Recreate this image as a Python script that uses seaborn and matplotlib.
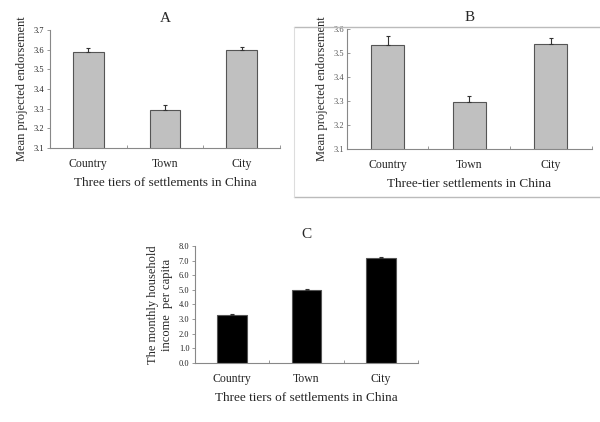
import matplotlib
matplotlib.use("Agg")
import matplotlib.pyplot as plt
import seaborn as sns
import pandas as pd
from matplotlib.lines import Line2D

sns.set_theme(style="white")
plt.rcParams['font.family'] = ['Liberation Serif', 'DejaVu Serif']

categories = ["Country", "Town", "City"]
a_values = [3.59, 3.295, 3.597]
a_errors = [0.017, 0.022, 0.017]
b_values = [3.532, 3.298, 3.537]
b_errors = [0.04, 0.025, 0.027]
c_values = [3.3, 4.98, 7.2]
c_errors = [0.06, 0.1, 0.07]

a_ticks = [3.1, 3.2, 3.3, 3.4, 3.5, 3.6, 3.7]
b_ticks = [3.1, 3.2, 3.3, 3.4, 3.5, 3.6]
c_ticks = [0, 1, 2, 3, 4, 5, 6, 7, 8]

fig = plt.figure(figsize=(6, 4.22), dpi=100)

# Box around panel B
fig.add_artist(Line2D([294/600, 1.0], [1-27/422, 1-27/422], color="#bbbbbb", lw=1.0))
fig.add_artist(Line2D([294/600, 1.0], [1-197/422, 1-197/422], color="#bbbbbb", lw=1.0))
fig.add_artist(Line2D([294/600, 294/600], [1-27/422, 1-197/422], color="#dddddd", lw=0.8))


def panel(rect, values, errors, color, ylim, yticks, yfmt, title, xlabel, ylabel,
          ytick_dir="out", tick_color="#222222"):
    ax = fig.add_axes(rect)
    df = pd.DataFrame({"cat": categories, "val": values})
    sns.barplot(data=df, x="cat", y="val", ax=ax, color=color, width=0.4,
                edgecolor="#555555", linewidth=0.8, saturation=1)
    ax.errorbar(range(len(values)), values, yerr=[[0]*len(errors), errors],
                fmt="none", ecolor="#333333", elinewidth=0.8, capsize=1.5, capthick=0.8)
    ax.set_ylim(*ylim)
    ax.set_xlim(-0.5, len(values) - 0.5)
    ax.set_yticks(yticks)
    ax.set_yticklabels([yfmt.format(t) for t in yticks], fontsize=6)
    ax.tick_params(axis="y", direction=ytick_dir, length=2, width=0.6,
                   colors="#888888", labelcolor=tick_color, pad=2, left=True)
    ax.set_xticks(range(len(values)))
    ax.set_xticklabels(categories, fontsize=8.5)
    ax.tick_params(axis="x", length=0, pad=7)
    ax.set_xticks([-0.5, 0.5, 1.5, 2.5], minor=True)
    ax.tick_params(axis="x", which="minor", direction="in", length=2, width=0.6,
                   colors="#888888", bottom=True)
    for s in ["top", "right"]:
        ax.spines[s].set_visible(False)
    for s in ["left", "bottom"]:
        ax.spines[s].set_color("#888888")
        ax.spines[s].set_linewidth(0.8)
    ax.set_xlabel(xlabel, fontsize=9.5, labelpad=5)
    ax.set_ylabel(ylabel, fontsize=9, labelpad=4)
    ax.set_title(title, fontsize=11, pad=6)
    return ax


panel([0.083, 0.649, 0.384, 0.280], a_values, a_errors, "#c0c0c0", (3.1, 3.7),
      a_ticks, "{:.1f}", "A", "Three tiers of settlements in China",
      "Mean projected endorsement")
panel([0.578, 0.647, 0.408, 0.284], b_values, b_errors, "#c0c0c0", (3.1, 3.6),
      b_ticks, "{:.1f}", "B", "Three-tier settlements in China",
      "Mean projected endorsement", ytick_dir="in", tick_color="#555555")
panel([0.325, 0.140, 0.372, 0.277], c_values, c_errors, "#000000", (0, 8),
      c_ticks, "{:.1f}", "C", "Three tiers of settlements in China",
      "The monthly household\nincome  per capita")

fig.savefig("out.png", dpi=100, facecolor="white")
